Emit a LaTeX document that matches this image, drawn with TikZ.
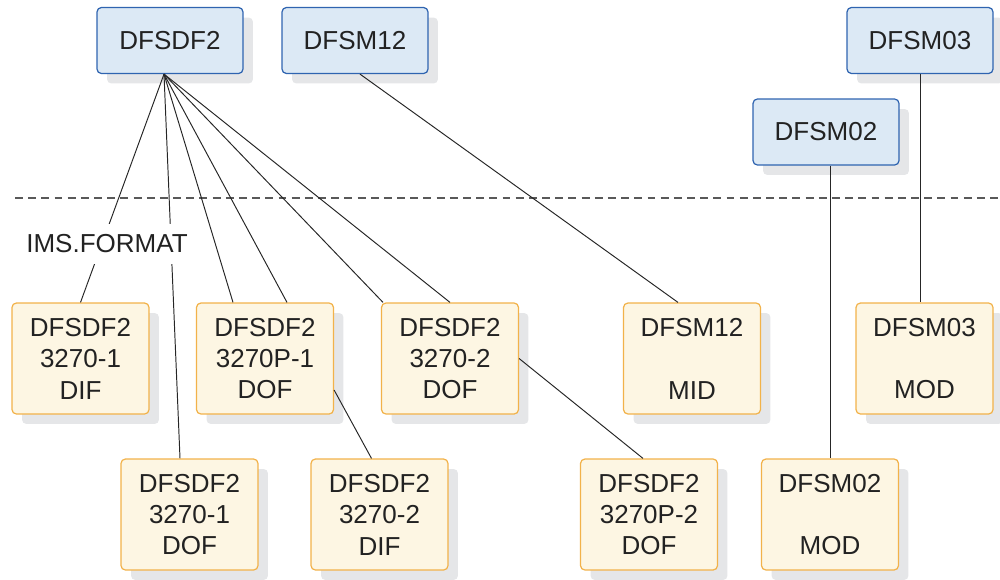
\documentclass[tikz,border=0pt]{standalone}
\usepackage{fontspec}
\setmainfont{Liberation Sans}
\usetikzlibrary{shadows}
\definecolor{memberfill}{HTML}{DCE9F5}
\definecolor{memberedge}{HTML}{2F64B0}
\definecolor{blockfill}{HTML}{FDF6E3}
\definecolor{blockedge}{HTML}{F2B24A}
\definecolor{shadowgray}{HTML}{E5E6E8}
\definecolor{labeltext}{HTML}{222222}
\begin{document}
\begin{tikzpicture}[x=0.02cm, y=-0.02cm,
	every node/.style={font=\fontsize{14.8}{17.9}\selectfont, text=labeltext, align=center},
	member/.style={draw=memberedge, fill=memberfill, line width=0.7pt, rounded corners=2.5pt,
		minimum width=2.92cm, minimum height=1.32cm, inner sep=0pt,
		drop shadow={shadow xshift=0.2cm, shadow yshift=-0.2cm, fill=shadowgray, opacity=1}},
	block/.style={draw=blockedge, fill=blockfill, line width=0.7pt, rounded corners=2.5pt,
		minimum width=2.74cm, minimum height=2.22cm, inner sep=0pt,
		drop shadow={shadow xshift=0.2cm, shadow yshift=-0.2cm, fill=shadowgray, opacity=1}},
	link/.style={line width=0.55pt, color=black!85}]
	\useasboundingbox (0,0) rectangle (1000,579);
	% library members
	\node[member] (dfsdf2) at (170,40.5) {DFSDF2};
	\node[member] (dfsm12) at (355,40.5) {DFSM12};
	\node[member] (dfsm03) at (920,40.5) {DFSM03};
	\node[member] (dfsm02) at (826,132) {DFSM02};
	% separator
	\draw[dashed, dash pattern=on 4.5pt off 3pt, line width=0.6pt, color=black!65] (15,198) -- (1000,198);
	% format blocks
	\node[block] (dif1) at (80.5,358.5) {DFSDF2\\3270-1\\DIF};
	\node[block] (dofp1) at (265,358.5) {DFSDF2\\3270P-1\\DOF};
	\node[block] (dof2) at (450,358.5) {DFSDF2\\3270-2\\DOF};
	\node[block] (mid12) at (692,358.5) {DFSM12\\~\\MID};
	\node[block] (mod3) at (924.5,358.5) {DFSM03\\~\\MOD};
	\node[block] (dof1) at (189.5,514.5) {DFSDF2\\3270-1\\DOF};
	\node[block] (dif2) at (379.5,514.5) {DFSDF2\\3270-2\\DIF};
	\node[block] (dofp2) at (649,514.5) {DFSDF2\\3270P-2\\DOF};
	\node[block] (mod2) at (830,514.5) {DFSM02\\~\\MOD};
	% links
	\coordinate (fan) at ([xshift=-0.12cm]dfsdf2.south);
	\draw[link] (fan) -- (dif1.north);
	\draw[link] (fan) -- ([xshift=-0.19cm]dof1.north);
	\draw[link] (fan) -- ([xshift=-0.64cm]dofp1.north);
	\draw[link] (fan) -- ([xshift=0.44cm]dofp1.north);
	\draw[link] (fan) -- ([xshift=-1.34cm]dof2.north);
	\draw[link] (fan) -- (dof2.north);
	\draw[link] ([xshift=0.1cm]dfsm12.south) -- ([xshift=-0.28cm]mid12.north);
	\draw[link] (dfsm03.south) -- (dfsm03.south |- mod3.north);
	\draw[link] (mod2.north |- dfsm02.south) -- (mod2.north);
	\draw[link] ([yshift=-0.63cm]dofp1.east) -- ([xshift=-0.16cm]dif2.north);
	\draw[link] (dof2.east) -- ([xshift=-0.12cm]dofp2.north);
	% data set name
	\node[fill=white, inner xsep=3pt, inner ysep=6pt] (imsfmt) at (107,244) {IMS.FORMAT};
\end{tikzpicture}
\end{document}
